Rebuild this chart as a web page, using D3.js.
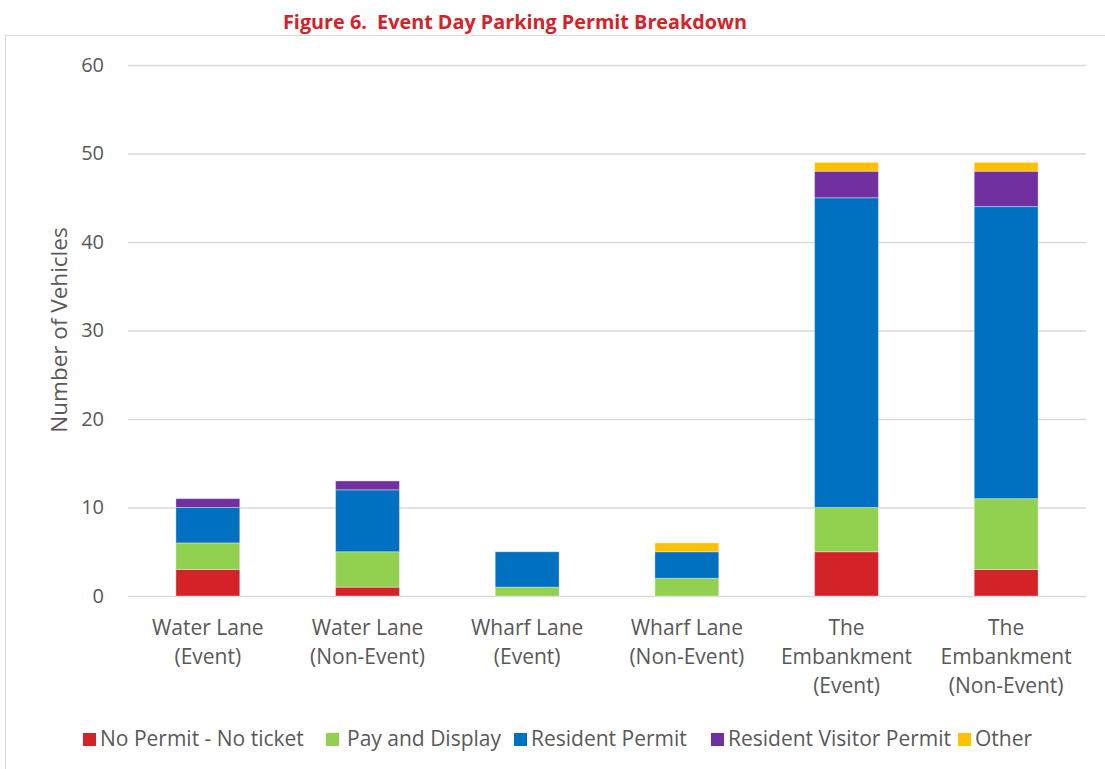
<!DOCTYPE html>
<html><head><meta charset="utf-8">
<script src="https://cdn.jsdelivr.net/npm/d3@7"></script>
<style>body{margin:0;background:#fff}svg{display:block}text{font-family:"Open Sans",sans-serif}</style>
</head><body><svg id="c" width="1105" height="769"></svg>
<script>
const categories = [["Water Lane","(Event)"],["Water Lane","(Non-Event)"],["Wharf Lane","(Event)"],["Wharf Lane","(Non-Event)"],["The","Embankment","(Event)"],["The","Embankment","(Non-Event)"]];
const seriesNames = ["No Permit - No ticket","Pay and Display","Resident Permit","Resident Visitor Permit","Other"];
const seriesColors = ["#d42229","#92d050","#0070c0","#7030a0","#ffc000"];
const noPermit = [3,1,0,0,5,3];
const payDisplay = [3,4,1,2,5,8];
const resident = [4,7,4,3,35,33];
const visitor = [1,1,0,0,3,4];
const other = [0,0,0,1,1,1];
const yTicks = [0,10,20,30,40,50,60];
const title = "Figure 6.  Event Day Parking Permit Breakdown";
const yTitle = "Number of Vehicles";

const svg = d3.select("#c");
svg.append("rect").attr("x",5.5).attr("y",35.5).attr("width",1200).attr("height",900).attr("fill","none").attr("stroke","#d9d9d9");
svg.append("text").attr("x",515).attr("y",29).attr("text-anchor","middle").attr("fill","#d42229").attr("font-weight","bold").attr("font-size",19.8).style("white-space","pre").text(title);

const x = d3.scaleBand().domain(d3.range(categories.length)).range([128,1086]).paddingInner(0.6).paddingOuter(0.3);
const y = d3.scaleLinear().domain([0,60]).range([596,65]);

const grid = svg.append("g");
grid.selectAll("line").data(yTicks).join("line").attr("x1",128).attr("x2",1086).attr("y1",d=>y(d)+0.5).attr("y2",d=>y(d)+0.5).attr("stroke","#d9d9d9").attr("stroke-width",1.5);
const yAxis = svg.append("g").attr("transform","translate(112,0)").call(d3.axisLeft(y).tickValues(yTicks).tickSize(0).tickPadding(8));
yAxis.select(".domain").remove();
yAxis.selectAll("text").attr("font-size",20).attr("fill","#595959").style("font-family",'"Open Sans",sans-serif');

svg.append("text").attr("transform","translate(67,330) rotate(-90)").attr("text-anchor","middle").attr("font-size",22.5).attr("fill","#595959").text(yTitle);

const rows = categories.map((c,i)=>({i,s0:noPermit[i],s1:payDisplay[i],s2:resident[i],s3:visitor[i],s4:other[i]}));
const stack = d3.stack().keys(["s0","s1","s2","s3","s4"])(rows);
stack.forEach((layer,k)=>{
  svg.append("g").selectAll("rect").data(layer.filter(d=>d[1]>d[0])).join("rect")
    .attr("x",d=>x(d.data.i)).attr("width",x.bandwidth())
    .attr("y",d=>y(d[1])).attr("height",d=>y(d[0])-y(d[1]))
    .attr("fill",seriesColors[k]).attr("stroke","#ffffff").attr("stroke-opacity",0.35).attr("stroke-width",1);
});

const xl = svg.append("g");
categories.forEach((lines,i)=>{
  const t = xl.append("text").attr("x",x(i)+x.bandwidth()/2).attr("y",635).attr("text-anchor","middle").attr("font-size",21).attr("fill","#595959");
  lines.forEach((l,j)=>t.append("tspan").attr("x",x(i)+x.bandwidth()/2).attr("dy",j?29:0).text(l));
});

const legX = [83,326,514,711,958];
const lg = svg.append("g");
seriesNames.forEach((n,k)=>{
  lg.append("rect").attr("x",legX[k]).attr("y",733).attr("width",13).attr("height",13).attr("fill",seriesColors[k]);
  lg.append("text").attr("x",legX[k]+(k===1?21:17)).attr("y",746).attr("font-size",21).attr("fill","#595959").text(n);
});
</script></body></html>
